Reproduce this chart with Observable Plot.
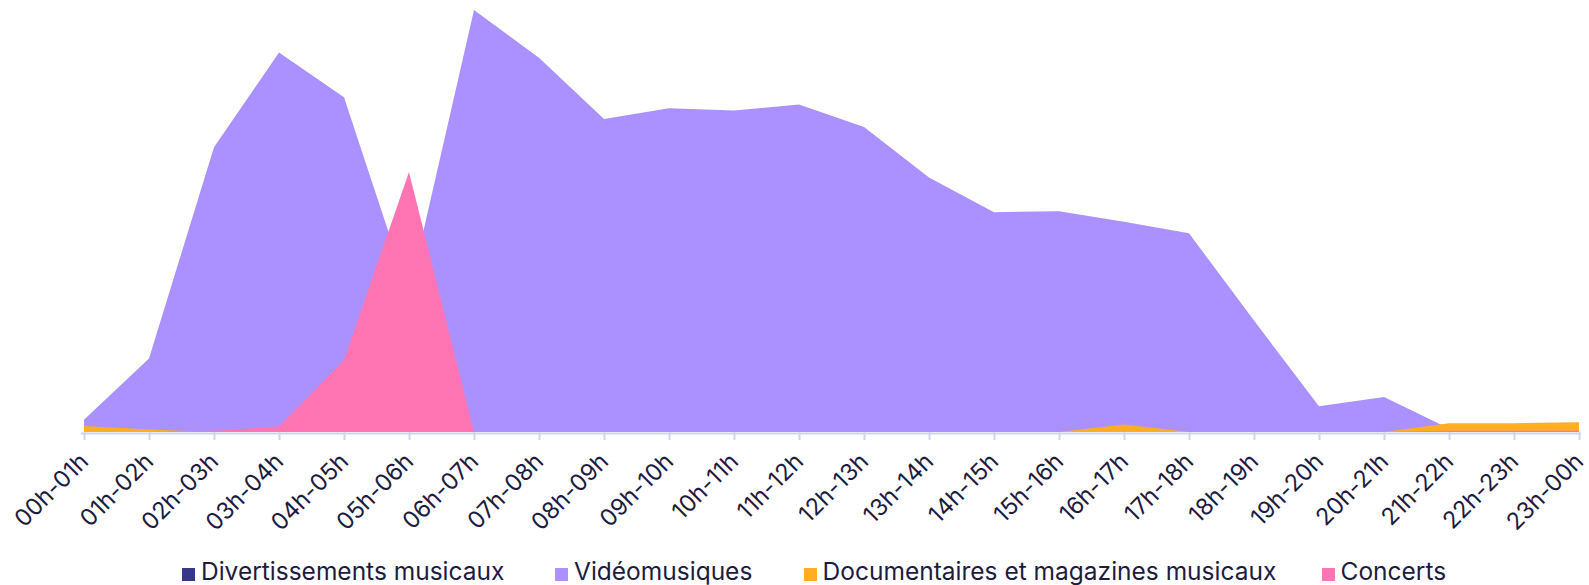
<!DOCTYPE html>
<html>
<head>
<meta charset="utf-8">
<script src="https://cdn.jsdelivr.net/npm/d3@7"></script>
<script src="https://cdn.jsdelivr.net/npm/@observablehq/plot@0.6"></script>
<style>
  html, body { margin: 0; padding: 0; background: #fff; }
  body { width: 1589px; height: 585px; overflow: hidden; font-family: Inter, "Noto Sans", sans-serif; }
  #legend { position: absolute; top: 557px; left: 182px; font-size: 24.5px; line-height: 28px; color: #1d1b3f; }
  #legend .item { display: flex; align-items: center; position: absolute; top: 0; white-space: nowrap; }
  #legend .sw { width: 13px; height: 13px; margin-right: 6px; margin-top: 6px; }
</style>
</head>
<body>
<div id="chart"></div>
<div id="legend"></div>
<script>
const hours = ["00h-01h","01h-02h","02h-03h","03h-04h","04h-05h","05h-06h","06h-07h","07h-08h","08h-09h","09h-10h","10h-11h","11h-12h","12h-13h","13h-14h","14h-15h","15h-16h","16h-17h","17h-18h","18h-19h","19h-20h","20h-21h","21h-22h","22h-23h","23h-00h"];
const seriesNames = ["Divertissements musicaux","Vidéomusiques","Documentaires et magazines musicaux","Concerts"];
const seriesColors = ["#38378a","#ab91ff","#ffae21","#ff75b4"];
const divertissements = [0,0,0,0,0,0,0,0,0,0,0,0,0,0,0,0,0,0,0,0,0,0,0,0];
const videomusiques = [2.9,17.4,67.5,89.9,79.3,32.7,100,88.7,74.2,76.7,76.2,77.6,72.3,60.3,52.1,52.3,49.8,47.1,26.4,6.1,8.3,0.8,0,0];
const documentaires = [1.4,0.6,0,0,0,0,0,0,0,0,0,0,0,0,0,0,1.75,0,0,0,0,2.1,2.1,2.3];
const concerts = [0,0,0.3,1.3,17.0,61.6,0,0,0,0,0,0,0,0,0,0,0,0,0,0,0,0.3,0.3,0.3];

const seriesValues = [divertissements, videomusiques, documentaires, concerts];
const rows = seriesNames.map((name, i) => hours.map((h, j) => ({hour: h, value: seriesValues[i][j], series: name})));

const marks = rows.map((r, i) => Plot.areaY(r, {x: "hour", y1: 0, y2: "value", fill: seriesColors[i], curve: "linear"}));

const chart = Plot.plot({
  width: 1589,
  height: 535,
  marginTop: 10,
  marginBottom: 103,
  marginLeft: 81,
  marginRight: 8,
  style: {fontFamily: "Inter, 'Noto Sans', sans-serif", background: "#fff", overflow: "visible"},
  x: {type: "point", domain: hours, padding: 0},
  y: {domain: [0, 100], axis: null},
  marks: [
    ...marks,
    Plot.ruleY([0], {stroke: "#d4d3ec", strokeWidth: 2, dy: 1}),
    Plot.axisX({tickRotate: -45, fontSize: 23.5, tickSize: 8, tickPadding: 17, stroke: "#d4d3ec", strokeWidth: 2, fill: "#1d1b3f", label: null})
  ]
});
document.getElementById("chart").appendChild(chart);

const legend = document.getElementById("legend");
const offsets = [0, 373, 621.6, 1139.5];
seriesNames.forEach((name, i) => {
  const item = document.createElement("div");
  item.className = "item";
  item.style.left = offsets[i] + "px";
  const sw = document.createElement("span");
  sw.className = "sw";
  sw.style.background = seriesColors[i];
  item.appendChild(sw);
  item.appendChild(document.createTextNode(name));
  legend.appendChild(item);
});
</script>
</body>
</html>
